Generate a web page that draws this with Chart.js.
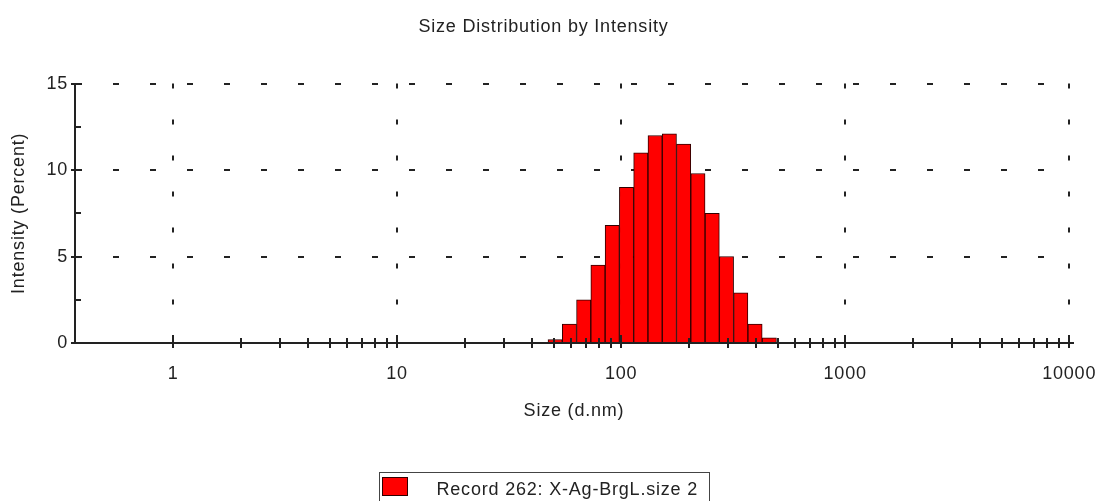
<!DOCTYPE html>
<html>
<head>
<meta charset="utf-8">
<script src="https://cdn.jsdelivr.net/npm/chart.js@4.4.0/dist/chart.umd.min.js"></script>
<style>
  html, body { margin: 0; padding: 0; background: #fff; }
  #wrap { width: 1099px; height: 501px; }
</style>
</head>
<body>
<div id="wrap"><canvas id="sizeChart"></canvas></div>
<script>
// size bins (d.nm) that carry intensity, and their percentages
const sizeBins = [50.75, 58.77, 68.06, 78.82, 91.28, 105.7, 122.4, 141.8, 164.2, 190.1, 220.2, 255.0, 295.3, 342.0, 396.1, 458.7];
const intensity = [0.2, 1.1, 2.5, 4.5, 6.8, 9.0, 11.0, 12.0, 12.1, 11.5, 9.8, 7.5, 5.0, 2.9, 1.1, 0.3];
const majorSizeTicks = [1, 10, 100, 1000, 10000];
const intensityTicks = [0, 5, 10, 15];
const recordLabel = 'Record 262: X-Ag-BrgL.size 2';

const ink = '#222';
const fontFamily = '"Liberation Sans", Arial, sans-serif';
const spacing = '0.8px';

// the old export font runs wide, so space the letters a little
const letterSpacing = {
    id: 'letterSpacing',
    beforeUpdate(chart) { chart.ctx.letterSpacing = spacing; },
    beforeDraw(chart) { chart.ctx.letterSpacing = spacing; }
};

// ticks that cross the axis lines, like the original software draws them
const tickMarks = {
    id: 'tickMarks',
    afterDraw(chart) {
        const { ctx, chartArea, scales: { x, y } } = chart;
        ctx.save();
        ctx.strokeStyle = ink;
        ctx.lineWidth = 2;
        ctx.beginPath();
        majorSizeTicks.forEach((v, i) => {
            const px = Math.round(x.getPixelForValue(v));
            ctx.moveTo(px, chartArea.bottom - 8);
            ctx.lineTo(px, chartArea.bottom + 5);
            if (i < majorSizeTicks.length - 1) {
                for (let m = 2; m <= 9; m++) {
                    const mx = Math.round(x.getPixelForValue(v * m));
                    ctx.moveTo(mx, chartArea.bottom - 5);
                    ctx.lineTo(mx, chartArea.bottom + 5);
                }
            }
        });
        intensityTicks.forEach((v, i) => {
            const py = Math.round(y.getPixelForValue(v));
            ctx.moveTo(chartArea.left - 4, py);
            ctx.lineTo(chartArea.left + 5, py);
            if (i < intensityTicks.length - 1) {
                const my = Math.round(y.getPixelForValue(v + 2.5));
                ctx.moveTo(chartArea.left, my);
                ctx.lineTo(chartArea.left + 6, my);
            }
        });
        ctx.stroke();
        ctx.restore();
    }
};

// legend in a framed box, cut by the bottom edge as in the export
const boxLegend = {
    id: 'boxLegend',
    afterDraw(chart) {
        const ds = chart.data.datasets[0];
        const { ctx, chartArea } = chart;
        ctx.save();
        ctx.letterSpacing = spacing;
        ctx.font = '18px ' + fontFamily;
        const tw = ctx.measureText(ds.label).width;
        const w = Math.round(tw + 68);
        const left = Math.round((chart.width - 12) / 2 - w / 2) + 0.5;
        const top = Math.round(chartArea.bottom + 129) + 0.5;
        ctx.strokeStyle = '#444';
        ctx.lineWidth = 1;
        ctx.strokeRect(left, top, w, 40);
        ctx.fillStyle = ds.backgroundColor;
        ctx.fillRect(left + 3, top + 5, 25, 18);
        ctx.strokeStyle = ds.borderColor;
        ctx.strokeRect(left + 3, top + 5, 25, 18);
        ctx.fillStyle = ink;
        ctx.textBaseline = 'middle';
        ctx.fillText(ds.label, left + 57, top + 18);
        ctx.restore();
    }
};

Chart.defaults.font.family = fontFamily;
Chart.defaults.font.size = 18;
Chart.defaults.color = ink;

new Chart(document.getElementById('sizeChart'), {
    type: 'bar',
    data: {
        datasets: [{
            label: recordLabel,
            data: sizeBins.map((s, i) => ({ x: s, y: intensity[i] })),
            backgroundColor: '#ff0000',
            borderColor: '#300000',
            borderWidth: 1,
            barPercentage: 1,
            categoryPercentage: 1
        }]
    },
    options: {
        responsive: true,
        maintainAspectRatio: false,
        animation: false,
        layout: { padding: { left: 0, right: 12, top: 0, bottom: 77 } },
        plugins: {
            legend: { display: false },
            tooltip: { enabled: false },
            title: {
                display: true,
                text: 'Size Distribution by Intensity',
                font: { size: 18, weight: 'normal' },
                color: ink,
                padding: { top: 16, bottom: 46 }
            }
        },
        scales: {
            x: {
                type: 'logarithmic',
                min: 0.365,
                max: 10400,
                offset: false,
                afterBuildTicks(scale) {
                    scale.ticks = majorSizeTicks.map(v => ({ value: v }));
                },
                afterFit(scale) {
                    scale.height = 81;
                    scale.paddingLeft = 0;
                    scale.paddingRight = 26;
                },
                ticks: {
                    padding: 20,
                    maxRotation: 0,
                    autoSkip: false,
                    callback: v => String(v)
                },
                grid: { color: ink, lineWidth: 2, drawTicks: false, offset: false },
                border: { color: ink, width: 2, dash: [5, 31] },
                title: {
                    display: true,
                    text: 'Size (d.nm)',
                    font: { size: 18 },
                    padding: { top: 0, bottom: 2 }
                }
            },
            y: {
                min: 0,
                max: 15,
                afterFit(scale) {
                    scale.width = 75;
                },
                ticks: { stepSize: 5, padding: 7 },
                grid: {
                    color: ctx => ctx.tick && ctx.tick.value === 0 ? 'rgba(0,0,0,0)' : ink,
                    lineWidth: 2,
                    drawTicks: false
                },
                border: { color: ink, width: 2, dash: [6, 31] },
                title: {
                    display: true,
                    text: 'Intensity (Percent)',
                    font: { size: 18 },
                    padding: { top: 8, bottom: 0 }
                }
            }
        }
    },
    plugins: [letterSpacing, tickMarks, boxLegend]
});
</script>
</body>
</html>
